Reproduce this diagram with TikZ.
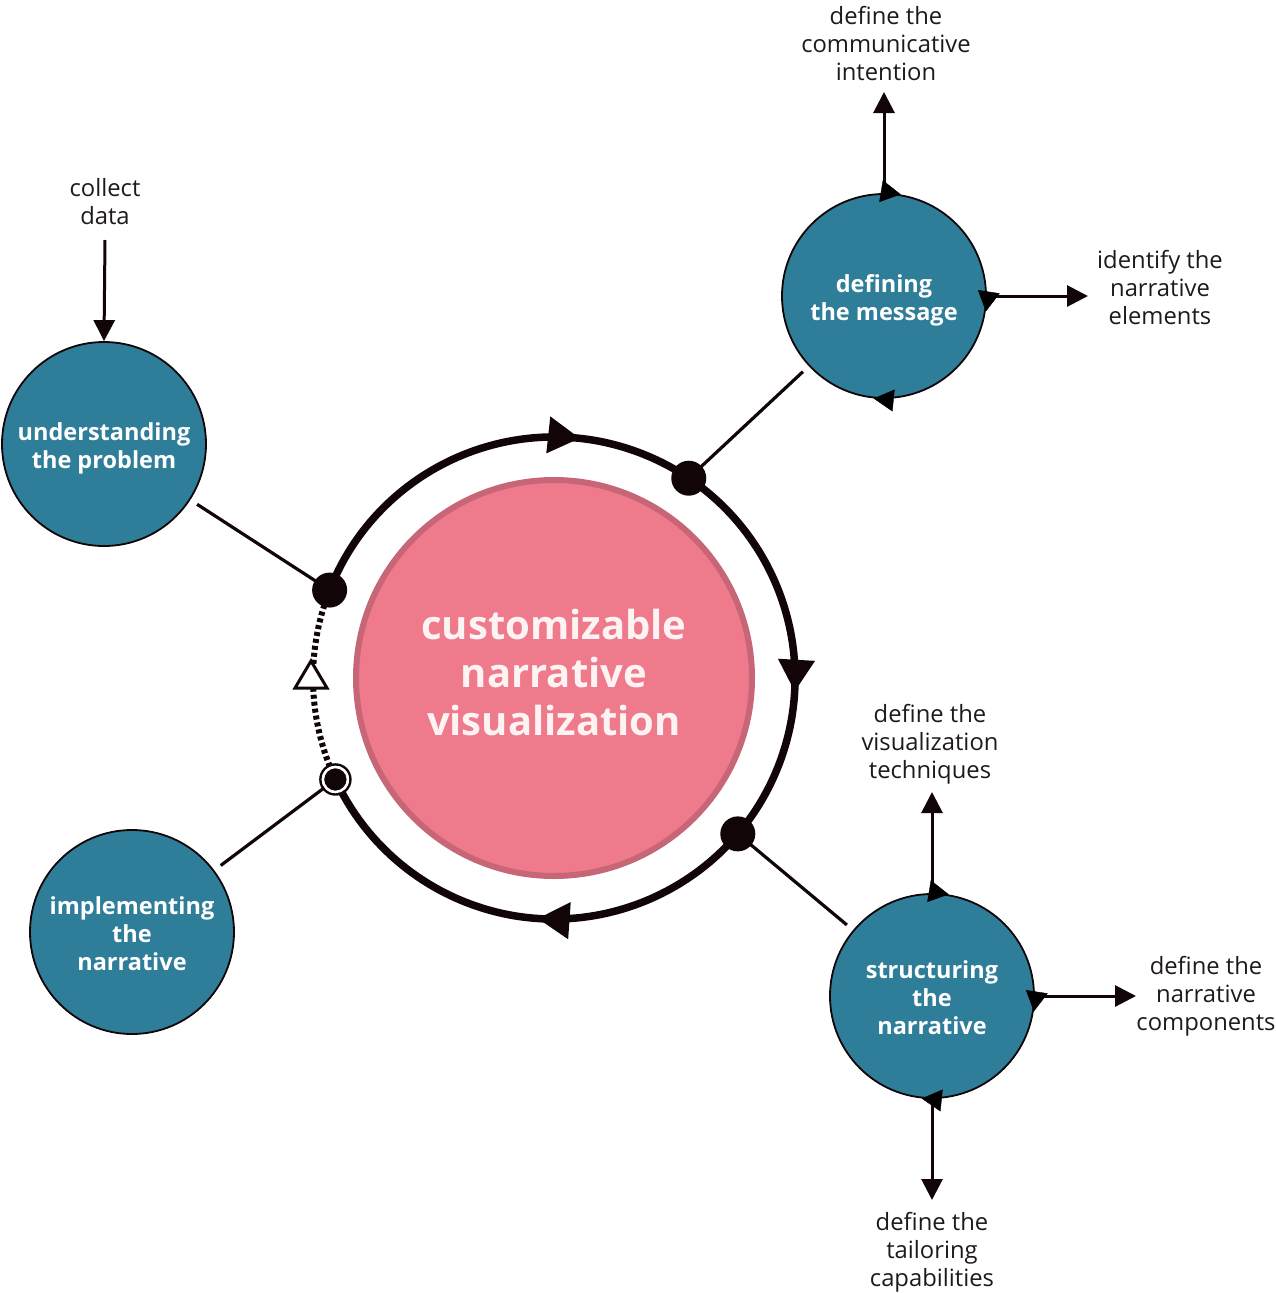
\documentclass[tikz,border=0pt]{standalone}
\usepackage{fontspec}
\setmainfont{Open Sans}
\usetikzlibrary{arrows.meta,decorations.markings,calc}
\definecolor{tealc}{HTML}{2E7D99}
\definecolor{pinkf}{HTML}{EE7A8C}
\definecolor{pinkd}{HTML}{C66677}
\definecolor{darkc}{HTML}{120508}
\definecolor{txt}{HTML}{1F1A1A}
\definecolor{ctext}{HTML}{FDF3F3}
\tikzset{
  stage/.style={circle, draw=darkc, line width=1.8pt, fill=tealc, minimum size=204pt, inner sep=0pt,
    text=white, align=center, font=\fontsize{23.5pt}{28pt}\selectfont\bfseries},
  lbl/.style={align=center, text=txt, inner sep=0pt, font=\fontsize{23.8pt}{28pt}\selectfont},
  bigdot/.style={circle, fill=darkc, minimum size=35pt, inner sep=0pt},
  outarrow/.style={draw=darkc, line width=3pt, -{Triangle[length=21pt,width=21pt]}},
  link/.style={draw=darkc, line width=3.2pt, shorten <=8pt},
  ringarr/.style={decoration={markings,
      mark=at position 0.2385 with {\arrow{Triangle[length=32pt,width=35pt]}},
      mark=at position 0.516 with {\arrow{Triangle[length=32pt,width=35pt]}},
      mark=at position 0.805 with {\arrow{Triangle[length=32pt,width=35pt]}}},
    postaction={decorate}},
  smallarr/.style={decoration={markings,
      mark=at position 0.026 with {\arrow{Triangle[length=20pt,width=22pt]}},
      mark=at position 0.274 with {\arrow{Triangle[length=20pt,width=22pt]}},
      mark=at position 0.516 with {\arrow{Triangle[length=20pt,width=22pt]}}},
    decorate, darkc}
}
\newcommand{\stagetext}[1]{\raisebox{-5pt}[\height][\depth]{\begin{tabular}{@{}c@{}}#1\end{tabular}}}
\begin{document}
\begin{tikzpicture}[x=1pt,y=1pt]
\useasboundingbox (0,-1293) rectangle (1276,0);
\coordinate (C) at (554,-678);
% central circle
\node[circle, fill=pinkf, draw=pinkd, line width=6pt, minimum size=396pt, inner sep=0pt,
  text=ctext, align=center, font=\fontsize{40pt}{48pt}\selectfont\bfseries] (core) at (C)
  {\raisebox{5pt}{\begin{tabular}{@{}c@{}}customizable\\narrative\\visualization\end{tabular}}};
% stage circles
\node[stage] (under) at (104,-444) {\stagetext{understanding\\the problem}};
\node[stage] (defmsg) at (884,-296) {\stagetext{defining\\the message}};
\node[stage] (impl) at (132,-932) {\stagetext{implementing\\the\\narrative}};
\node[stage] (struct) at (932,-996) {\stagetext{structuring\\the\\narrative}};
% ring junctions
\coordinate (a) at ($(C)+(158.6:241)$);
\coordinate (b) at ($(C)+(204.9:241)$);
\coordinate (m) at ($(C)+(56:241)$);
\coordinate (s) at ($(C)+(-40.3:241)$);
% links from stages to ring
\draw[link] (under) -- (a);
\draw[link] (defmsg) -- (m);
\draw[link] (impl) -- (b);
\draw[link] (struct) -- (s);
% dotted part of the ring
\draw[darkc, line width=6pt, dash pattern=on 4pt off 3pt] ($(C)+(204.9:241)$) arc[start angle=204.9, end angle=158.6, radius=241];
% solid ring
\draw[darkc, line width=7.5pt, ringarr] ($(C)+(158.6:241)$) arc[start angle=158.6, end angle=-155.1, radius=241];
% open triangle on dotted arc
\draw[darkc, line width=3pt, fill=white, line join=miter] (311,-661) -- (327,-688) -- (295,-688) -- cycle;
% dots
\node[bigdot] (da) at (a) {};
\node[bigdot] (dm) at (m) {};
\node[bigdot] (ds) at (s) {};
\draw[darkc, line width=2.5pt] (b) circle (15pt);
\node[circle, fill=darkc, draw=white, line width=2.5pt, minimum size=25pt, inner sep=0pt] (db) at (b) {};
% labels
\node[lbl] (collect) at (105,-202) {collect\\data};
\node[lbl] (intent) at (886,-44) {define the\\communicative\\intention};
\node[lbl] (elements) at (1160,-288) {identify the\\narrative\\elements};
\node[lbl] (techniques) at (930,-744) {define the\\visualization\\techniques};
\node[lbl] (components) at (1206,-996) {define the\\narrative\\components};
\node[lbl] (tailoring) at (932,-1252) {define the\\tailoring\\capabilities};
% arrow end points
\coordinate (cd) at (105,-240);
\coordinate (t1) at (884,-92);
\coordinate (t2) at (1088,-296);
\coordinate (t3) at (932,-792);
\coordinate (t4) at (1136,-996);
\coordinate (t5) at (932,-1200);
\draw[outarrow] (cd) -- (under.north);
\draw[outarrow] (defmsg.north) -- (t1);
\draw[outarrow] (defmsg.east) -- (t2);
\draw[outarrow] (struct.north) -- (t3);
\draw[outarrow] (struct.east) -- (t4);
\draw[outarrow] (struct.south) -- (t5);
% small flow triangles on stage circles
\path[smallarr] ($(defmsg.center)+(0,103)$) arc[start angle=90, end angle=-270, radius=103];
\path[smallarr] ($(struct.center)+(0,103)$) arc[start angle=90, end angle=-270, radius=103];
\end{tikzpicture}
\end{document}
